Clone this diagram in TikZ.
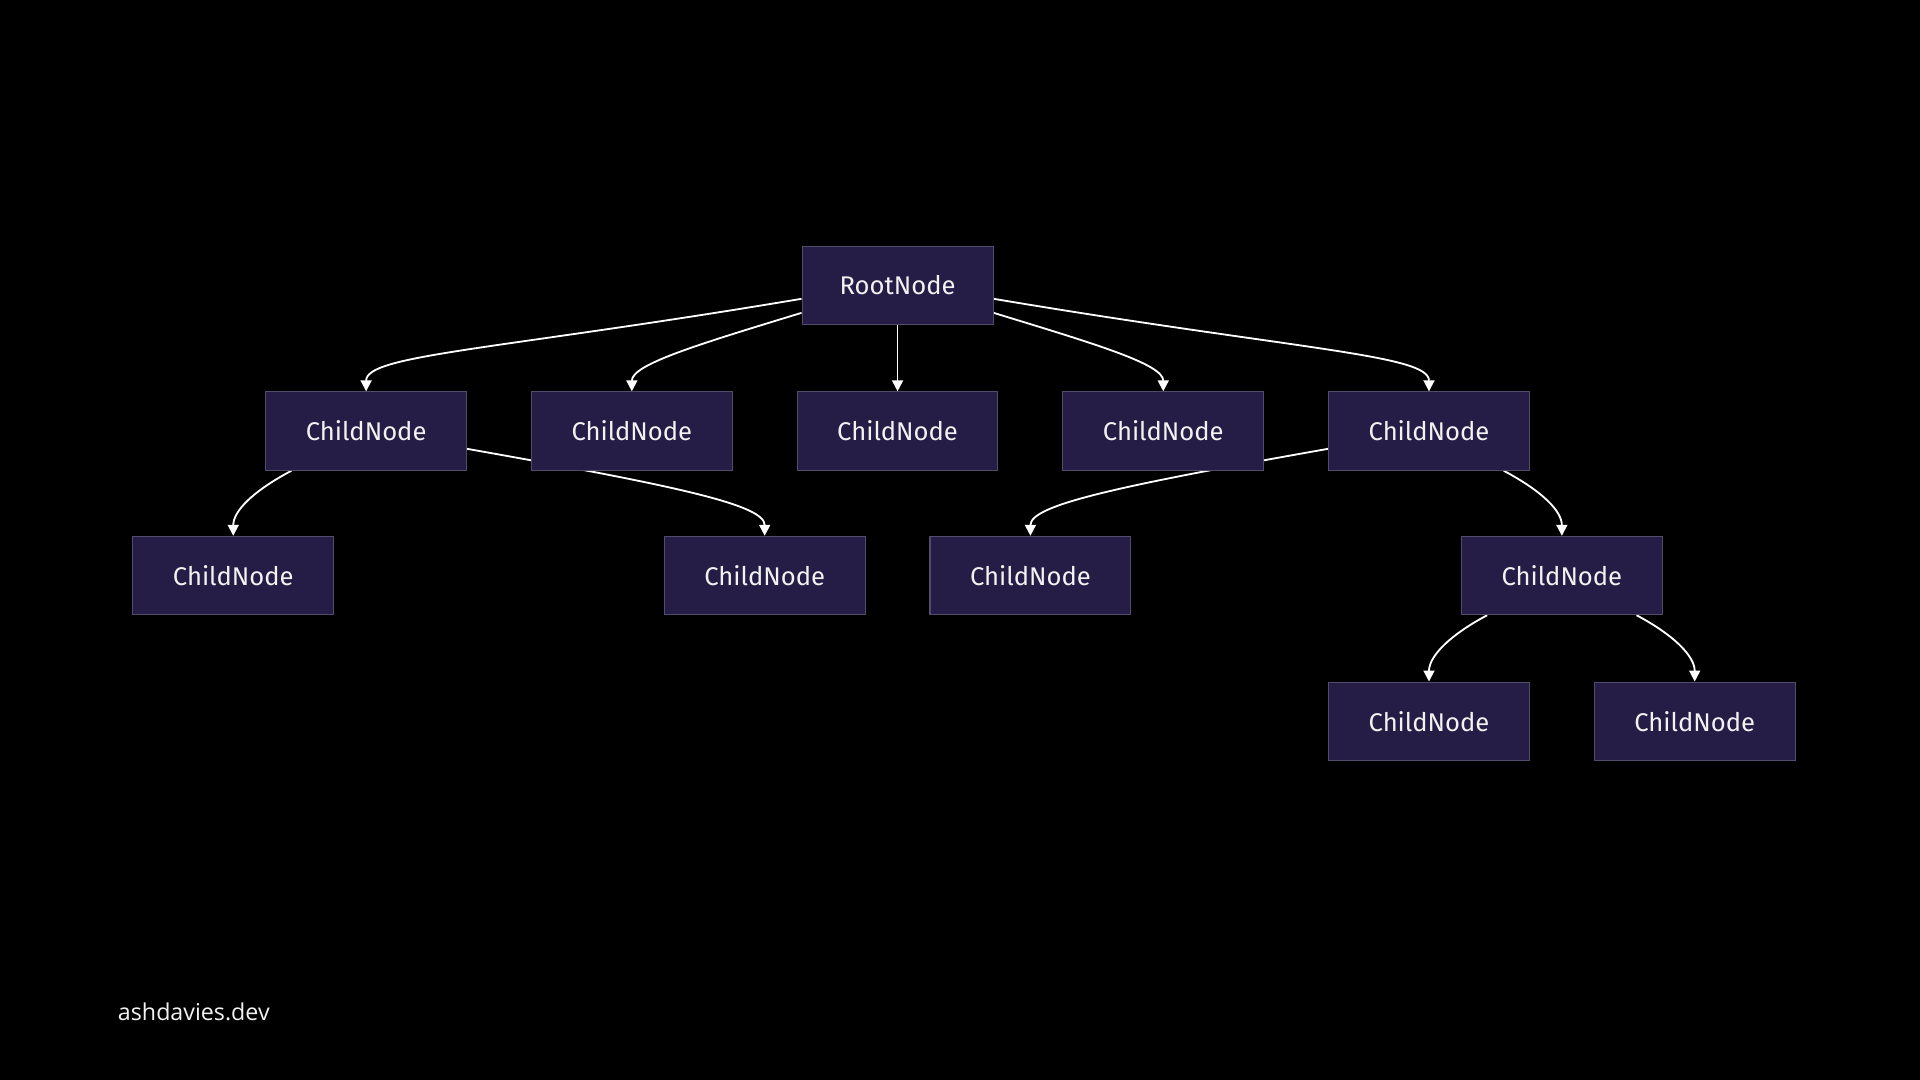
\documentclass[tikz,border=0pt]{standalone}
\usepackage{fontspec}
\setmainfont{Fira Sans}
\newfontfamily\footfont{Open Sans}
\usetikzlibrary{arrows.meta,backgrounds}
\definecolor{nodefill}{RGB}{37,29,70}
\definecolor{nodeline}{RGB}{82,76,108}
\definecolor{nodetext}{RGB}{242,242,242}
\tikzset{%
    treenode/.style={%
        draw=nodeline, fill=nodefill, line width=0.5pt, text=nodetext,
        minimum width=3.28cm, minimum height=1.28cm, inner sep=0pt,
        font=\fontsize{11.9}{14}\selectfont
    },
    link/.style={%
        draw=white, line width=0.85pt,
        -{Triangle[length=0.18cm,width=0.18cm]}
    }
}

\begin{document}
\begin{tikzpicture}[x=0.02cm, y=0.02cm]
    \node[treenode, minimum width=3.12cm] (root) at (733,-233) {RootNode};
    \node[treenode] (c1) at (299,-352) {ChildNode};
    \node[treenode] (c2) at (516,-352) {ChildNode};
    \node[treenode] (c3) at (733,-352) {ChildNode};
    \node[treenode] (c4) at (950,-352) {ChildNode};
    \node[treenode] (c5) at (1167,-352) {ChildNode};
    \node[treenode] (c11) at (190.5,-470) {ChildNode};
    \node[treenode] (c12) at (624.5,-470) {ChildNode};
    \node[treenode] (c51) at (841.5,-470) {ChildNode};
    \node[treenode] (c52) at (1275.5,-470) {ChildNode};
    \node[treenode] (c521) at (1167,-589) {ChildNode};
    \node[treenode] (c522) at (1384,-589) {ChildNode};
    \node[anchor=west, inner sep=0pt, text=nodetext,
        font=\footfont\fontsize{10.8}{13}\selectfont]
        (site) at (96,-826) {ashdavies.dev};
    \begin{scope}[on background layer]
        \fill[black] (0,0) rectangle (1568,-882);
        \draw[link] (root.188) .. controls +(-250,-42) and +(0,30) .. (c1.north);
        \draw[link] (root.196) .. controls +(-85,-26) and +(0,22) .. (c2.north);
        \draw[link] (root.south) -- (c3.north);
        \draw[link] (root.344) .. controls +(85,-26) and +(0,22) .. (c4.north);
        \draw[link] (root.352) .. controls +(250,-42) and +(0,30) .. (c5.north);
        \draw[link] (c1.208) .. controls +(-32,-17) and +(0,20) .. (c11.north);
        \draw[link] (c1.350) .. controls +(175,-31) and +(0,25) .. (c12.north);
        \draw[link] (c5.190) .. controls +(-175,-31) and +(0,25) .. (c51.north);
        \draw[link] (c5.332) .. controls +(32,-17) and +(0,20) .. (c52.north);
        \draw[link] (c52.208) .. controls +(-32,-17) and +(0,20) .. (c521.north);
        \draw[link] (c52.332) .. controls +(32,-17) and +(0,20) .. (c522.north);
    \end{scope}
\end{tikzpicture}
\end{document}
